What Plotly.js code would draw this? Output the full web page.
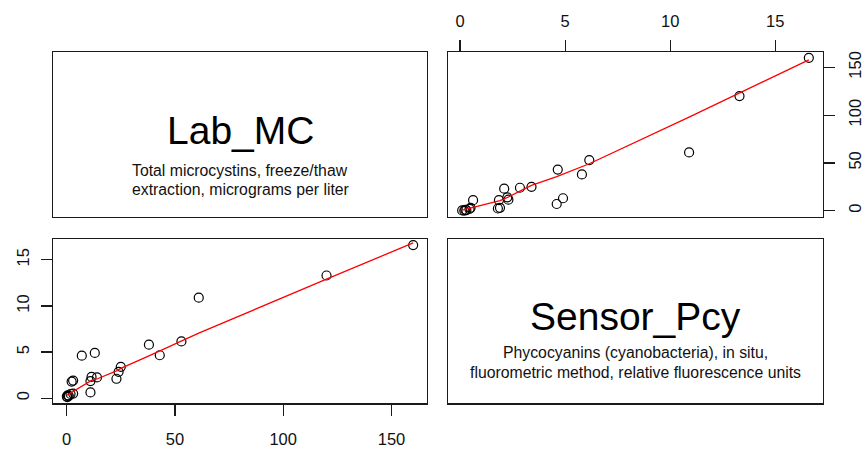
<!DOCTYPE html>
<html>
<head>
<meta charset="utf-8">
<script src="https://cdn.plot.ly/plotly-3.0.1.min.js"></script>
<style>
  html, body { margin: 0; padding: 0; background: #fff; }
  #plot { width: 864px; height: 449px; }
</style>
</head>
<body>
<div id="plot"></div>
<script>
// Paired samples: lab-measured microcystins vs. in-situ phycocyanin sensor
const labMC = [160, 120, 61, 53, 38, 43, 7, 13, 25, 24, 23, 14, 11.5, 11, 11, 2.3, 3.0, 3.0, 1.8, 1.0, 0.5, 0.3, 0.1];
const sensorPcy = [16.6, 13.3, 10.9, 6.15, 5.8, 4.65, 4.6, 4.9, 3.4, 2.85, 2.1, 2.25, 2.3, 1.85, 0.62, 1.8, 1.9, 0.5, 0.45, 0.25, 0.3, 0.1, 0.2];

const labTicks = [0, 50, 100, 150];
const sensorTicks = [0, 5, 10, 15];
const varNames = ['Lab_MC', 'Sensor_Pcy'];
const varDescriptions = [
  ['Total microcystins, freeze/thaw', 'extraction, micrograms per liter'],
  ['Phycocyanins (cyanobacteria), in situ,', 'fluorometric method, relative fluorescence units']
];

// Locally weighted scatterplot smoother (port of the classic clowess routine)
function lowess(xIn, yIn, f, nsteps) {
  f = f === undefined ? 2 / 3 : f;
  nsteps = nsteps === undefined ? 3 : nsteps;
  const n = xIn.length;
  const idx = xIn.map((v, i) => i).sort((a, b) => xIn[a] - xIn[b]);
  const x = [0], y = [0];
  idx.forEach(i => { x.push(xIn[i]); y.push(yIn[i]); });
  const ys = new Array(n + 1).fill(0);
  const rw = new Array(n + 1).fill(1);
  const res = new Array(n + 1).fill(0);
  const delta = 0.01 * (x[n] - x[1]);
  const ns = Math.max(2, Math.min(n, Math.floor(f * n + 1e-7)));
  const cube = v => v * v * v;

  function lowest(xs, nleft, nright, userw) {
    const w = res;
    const range = x[n] - x[1];
    const h = Math.max(xs - x[nleft], x[nright] - xs);
    const h9 = 0.999 * h, h1 = 0.001 * h;
    let a = 0, j = nleft;
    while (j <= n) {
      w[j] = 0;
      const r = Math.abs(x[j] - xs);
      if (r <= h9) {
        w[j] = r <= h1 ? 1 : cube(1 - cube(r / h));
        if (userw) w[j] *= rw[j];
        a += w[j];
      } else if (x[j] > xs) break;
      j++;
    }
    const nrt = j - 1;
    if (a <= 0) return null;
    for (j = nleft; j <= nrt; j++) w[j] /= a;
    if (h > 0) {
      a = 0;
      for (j = nleft; j <= nrt; j++) a += w[j] * x[j];
      let b = xs - a, c = 0;
      for (j = nleft; j <= nrt; j++) c += w[j] * (x[j] - a) * (x[j] - a);
      if (Math.sqrt(c) > 0.001 * range) {
        b /= c;
        for (j = nleft; j <= nrt; j++) w[j] *= (b * (x[j] - a) + 1);
      }
    }
    let out = 0;
    for (j = nleft; j <= nrt; j++) out += w[j] * y[j];
    return out;
  }

  let iter = 1;
  while (iter <= nsteps + 1) {
    let nleft = 1, nright = ns, last = 0, i = 1;
    for (;;) {
      if (nright < n) {
        const d1 = x[i] - x[nleft];
        const d2 = x[nright + 1] - x[i];
        if (d1 > d2) { nleft++; nright++; continue; }
      }
      const fit = lowest(x[i], nleft, nright, iter > 1);
      ys[i] = fit === null ? y[i] : fit;
      if (last < i - 1) {
        const denom = x[i] - x[last];
        for (let j = last + 1; j < i; j++) {
          const alpha = (x[j] - x[last]) / denom;
          ys[j] = alpha * ys[i] + (1 - alpha) * ys[last];
        }
      }
      last = i;
      const cut = x[last] + delta;
      for (i = last + 1; i <= n; i++) {
        if (x[i] > cut) break;
        if (x[i] === x[last]) { ys[i] = ys[last]; last = i; }
      }
      i = Math.max(last + 1, i - 1);
      if (last >= n) break;
    }
    const resid = [];
    for (let k = 1; k <= n; k++) resid.push(y[k] - ys[k]);
    let sc = 0;
    resid.forEach(r => { sc += Math.abs(r); });
    sc /= n;
    if (iter > nsteps) break;
    const sorted = resid.map(Math.abs).sort((a, b) => a - b);
    const m1 = Math.floor(n / 2);
    const cmad = n % 2 === 0 ? 3 * (sorted[m1] + sorted[n - m1 - 1]) : 6 * sorted[m1];
    if (cmad < 1e-7 * sc) break;
    const c9 = 0.999 * cmad, c1 = 0.001 * cmad;
    for (let k = 1; k <= n; k++) {
      const r = Math.abs(resid[k - 1]);
      rw[k] = r <= c1 ? 1 : (r <= c9 ? Math.pow(1 - Math.pow(r / cmad, 2), 2) : 0);
    }
    iter++;
  }
  return { x: x.slice(1), y: ys.slice(1) };
}

// Axis range padded by 4% on each side
function padRange(v) {
  const lo = Math.min.apply(null, v), hi = Math.max.apply(null, v);
  const d = (hi - lo) * 0.04;
  return [lo - d, hi + d];
}

const W = 864, H = 449;
const px = v => v / W;
const py = v => 1 - v / H;

// Panel boxes (pixels): left/right columns, top/bottom rows
const colL = [px(53), px(427)];
const colR = [px(448.3), px(822.7)];
const rowT = [py(216.7), py(51.7)];
const rowB = [py(403.3), py(239)];

const FONT = 'Liberation Sans, Arial, Helvetica, sans-serif';
const INK = '#1a1a1a';

const pointStyle = {
  symbol: 'circle-open',
  size: 9,
  color: '#000',
  line: { color: '#000', width: 1.2 }
};
const smoothStyle = { color: '#ff0000', width: 1.3 };

const fitLabOnSensor = lowess(labMC, sensorPcy);
const fitSensorOnLab = lowess(sensorPcy, labMC);

const traces = [
  // lower-left: Lab_MC (x) vs Sensor_Pcy (y)
  { x: labMC, y: sensorPcy, xaxis: 'x', yaxis: 'y', type: 'scatter', mode: 'markers',
    marker: pointStyle, hoverinfo: 'x+y' },
  { x: fitLabOnSensor.x, y: fitLabOnSensor.y, xaxis: 'x', yaxis: 'y', type: 'scatter', mode: 'lines',
    line: smoothStyle, hoverinfo: 'skip' },
  // upper-right: Sensor_Pcy (x) vs Lab_MC (y)
  { x: sensorPcy, y: labMC, xaxis: 'x2', yaxis: 'y2', type: 'scatter', mode: 'markers',
    marker: pointStyle, hoverinfo: 'x+y' },
  { x: fitSensorOnLab.x, y: fitSensorOnLab.y, xaxis: 'x2', yaxis: 'y2', type: 'scatter', mode: 'lines',
    line: smoothStyle, hoverinfo: 'skip' },
  // diagonal label panels
  { x: [], y: [], xaxis: 'x3', yaxis: 'y3', type: 'scatter', mode: 'markers', hoverinfo: 'skip' },
  { x: [], y: [], xaxis: 'x4', yaxis: 'y4', type: 'scatter', mode: 'markers', hoverinfo: 'skip' }
];

const boxAxis = {
  showline: true, mirror: true, linecolor: INK, linewidth: 1.2,
  showgrid: false, zeroline: false, fixedrange: true
};
const tickAxis = Object.assign({}, boxAxis, {
  ticks: 'outside', ticklen: 11, tickwidth: 1.2, tickcolor: INK,
  tickmode: 'array', showticklabels: true,
  tickfont: { family: FONT, size: 16.5, color: '#111' }
});
const blankAxis = Object.assign({}, boxAxis, {
  ticks: '', showticklabels: false, range: [0, 1]
});

// Variable name plus two description lines, centred in a diagonal panel
function panelLabels(k, cx, nameY, lineYs) {
  const out = [{
    text: varNames[k], xref: 'paper', yref: 'paper', x: px(cx), y: py(nameY),
    xanchor: 'center', yanchor: 'middle', showarrow: false,
    font: { family: FONT, size: 39, color: '#000' }
  }];
  varDescriptions[k].forEach((line, i) => {
    out.push({
      text: line, xref: 'paper', yref: 'paper', x: px(cx), y: py(lineYs[i]),
      xanchor: 'center', yanchor: 'middle', showarrow: false,
      font: { family: FONT, size: 15.8, color: '#111' }
    });
  });
  return out;
}

const layout = {
  width: W, height: H,
  margin: { l: 0, r: 0, t: 0, b: 0 },
  paper_bgcolor: '#fff', plot_bgcolor: '#fff',
  showlegend: false,
  xaxis: Object.assign({}, tickAxis, {
    domain: colL, anchor: 'y', side: 'bottom', range: padRange(labMC),
    tickvals: labTicks, ticktext: labTicks.map(String), ticklabelstandoff: 10
  }),
  yaxis: Object.assign({}, tickAxis, {
    domain: rowB, anchor: 'x', side: 'left', range: padRange(sensorPcy),
    tickvals: sensorTicks, ticktext: sensorTicks.map(String), tickangle: -90, ticklabelstandoff: 5
  }),
  xaxis2: Object.assign({}, tickAxis, {
    domain: colR, anchor: 'y2', side: 'top', range: padRange(sensorPcy),
    tickvals: sensorTicks, ticktext: sensorTicks.map(String), ticklabelstandoff: 6
  }),
  yaxis2: Object.assign({}, tickAxis, {
    domain: rowT, anchor: 'x2', side: 'right', range: padRange(labMC),
    tickvals: labTicks, ticktext: labTicks.map(String), tickangle: -90, ticklabelstandoff: 6
  }),
  xaxis3: Object.assign({}, blankAxis, { domain: colL, anchor: 'y3' }),
  yaxis3: Object.assign({}, blankAxis, { domain: rowT, anchor: 'x3' }),
  xaxis4: Object.assign({}, blankAxis, { domain: colR, anchor: 'y4' }),
  yaxis4: Object.assign({}, blankAxis, { domain: rowB, anchor: 'x4' }),
  annotations: panelLabels(0, 240, 131, [170.5, 189.5])
    .concat(panelLabels(1, 635.5, 316, [352.5, 372]))
};

Plotly.newPlot('plot', traces, layout, { displayModeBar: false, staticPlot: true });
</script>
</body>
</html>
